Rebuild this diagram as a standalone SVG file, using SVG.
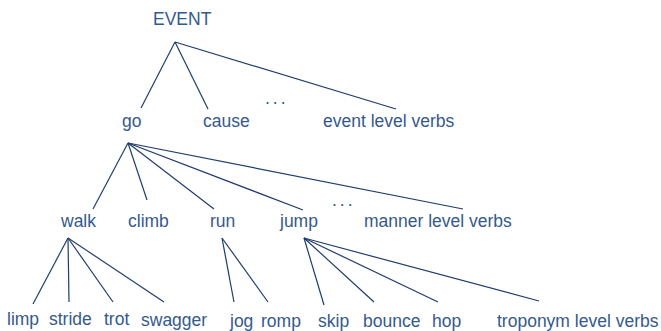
<svg xmlns="http://www.w3.org/2000/svg" width="661" height="331" viewBox="0 0 661 331">
  <style>
    text { font-family: "Liberation Sans", Arial, sans-serif; font-size: 17.5px; fill: #34598f; }
    .dots { letter-spacing: 3px; }
    .edge { stroke: #1f3d6e; stroke-width: 1.2; fill: none; }
  </style>
  <rect width="661" height="331" fill="#ffffff"/>

  <!-- connectors -->
  <g id="connectors">
    <!-- EVENT -->
    <line class="edge" x1="175" y1="42" x2="141" y2="108"/>
    <line class="edge" x1="175" y1="42" x2="208" y2="109"/>
    <line class="edge" x1="175" y1="42" x2="396" y2="109"/>
    <!-- go -->
    <line class="edge" x1="128" y1="143" x2="93" y2="209"/>
    <line class="edge" x1="128" y1="143" x2="147" y2="200"/>
    <line class="edge" x1="128" y1="143" x2="214" y2="209"/>
    <line class="edge" x1="128" y1="143" x2="303" y2="210"/>
    <line class="edge" x1="128" y1="143" x2="463" y2="209"/>
    <!-- walk -->
    <line class="edge" x1="68" y1="238" x2="33" y2="304"/>
    <line class="edge" x1="68" y1="238" x2="69" y2="302"/>
    <line class="edge" x1="68" y1="238" x2="113" y2="302"/>
    <line class="edge" x1="68" y1="238" x2="164" y2="302"/>
    <!-- run -->
    <line class="edge" x1="222" y1="238" x2="234" y2="302"/>
    <line class="edge" x1="222" y1="238" x2="268" y2="302"/>
    <!-- jump -->
    <line class="edge" x1="304" y1="238" x2="324" y2="305"/>
    <line class="edge" x1="304" y1="238" x2="374" y2="302"/>
    <line class="edge" x1="304" y1="238" x2="438" y2="302"/>
    <line class="edge" x1="304" y1="238" x2="539" y2="301"/>
  </g>

  <!-- level 0 -->
  <g id="event"><text x="153" y="25">EVENT</text></g>

  <!-- event level -->
  <g id="go"><text x="122" y="127">go</text></g>
  <g id="cause"><text x="203" y="127">cause</text></g>
  <g id="ellipsis-event"><text class="dots" x="265" y="104">...</text></g>
  <g id="event-level-verbs"><text x="323" y="127">event level verbs</text></g>

  <!-- manner level -->
  <g id="walk"><text x="61" y="227">walk</text></g>
  <g id="climb"><text x="128" y="227">climb</text></g>
  <g id="run"><text x="210" y="227">run</text></g>
  <g id="jump"><text x="280" y="227">jump</text></g>
  <g id="ellipsis-manner"><text class="dots" x="332" y="206">...</text></g>
  <g id="manner-level-verbs"><text x="364" y="227">manner level verbs</text></g>

  <!-- troponym level -->
  <g id="limp"><text x="7" y="325">limp</text></g>
  <g id="stride"><text x="49" y="325">stride</text></g>
  <g id="trot"><text x="104" y="325">trot</text></g>
  <g id="swagger"><text x="141" y="326">swagger</text></g>
  <g id="jog"><text x="230" y="327">jog</text></g>
  <g id="romp"><text x="261" y="327">romp</text></g>
  <g id="skip"><text x="318" y="327">skip</text></g>
  <g id="bounce"><text x="363" y="327">bounce</text></g>
  <g id="hop"><text x="432" y="327">hop</text></g>
  <g id="troponym-level-verbs"><text x="497" y="327">troponym level verbs</text></g>
</svg>
